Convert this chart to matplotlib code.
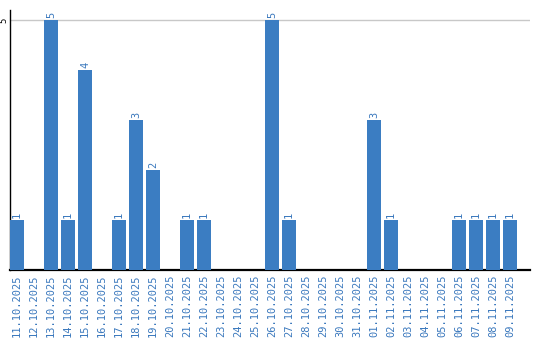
import matplotlib
matplotlib.use("Agg")
import matplotlib.pyplot as plt
import numpy as np

dates = ["11.10.2025", "12.10.2025", "13.10.2025", "14.10.2025", "15.10.2025",
         "16.10.2025", "17.10.2025", "18.10.2025", "19.10.2025", "20.10.2025",
         "21.10.2025", "22.10.2025", "23.10.2025", "24.10.2025", "25.10.2025",
         "26.10.2025", "27.10.2025", "28.10.2025", "29.10.2025", "30.10.2025",
         "31.10.2025", "01.11.2025", "02.11.2025", "03.11.2025", "04.11.2025",
         "05.11.2025", "06.11.2025", "07.11.2025", "08.11.2025", "09.11.2025"]
counts = [1, 0, 5, 1, 4, 0, 1, 3, 2, 0, 1, 1, 0, 0, 0, 5, 1, 0, 0, 0,
          0, 3, 1, 0, 0, 0, 1, 1, 1, 1]

blue = "#3b7dc2"
label_blue = "#3a78bd"

fig = plt.figure(figsize=(5.4, 3.4), dpi=100)
ax = fig.add_axes([10 / 540, 70 / 340, 520 / 540, 260 / 340])

x = np.arange(len(dates))
w = 14 / 17
ax.bar(x, counts, width=w, color=blue, zorder=3)

for xi, v in zip(x, counts):
    if v > 0:
        ax.text(xi, v + 0.04, str(v), rotation=90, ha="center", va="bottom",
                color=label_blue, fontsize=7.5, family="DejaVu Sans Mono")

ax.set_xlim(-0.412, 30.18)
ax.set_ylim(0, 5.2)
ax.axhline(5, color="#c8c8c8", lw=1, zorder=1)

ax.set_xticks(x)
ax.set_xticklabels(dates, rotation=90, color=label_blue, fontsize=7.5,
                   family="DejaVu Sans Mono")
ax.set_yticks([5])
ax.set_yticklabels(["5"], rotation=90, va="center", fontsize=6.5,
                   family="DejaVu Sans Mono")
ax.tick_params(axis="both", length=0, pad=3)
ax.tick_params(axis="y", pad=1)

for s in ["top", "right"]:
    ax.spines[s].set_visible(False)
ax.spines["left"].set_linewidth(1)
ax.spines["bottom"].set_linewidth(1.6)

fig.savefig("out.png", dpi=100)
